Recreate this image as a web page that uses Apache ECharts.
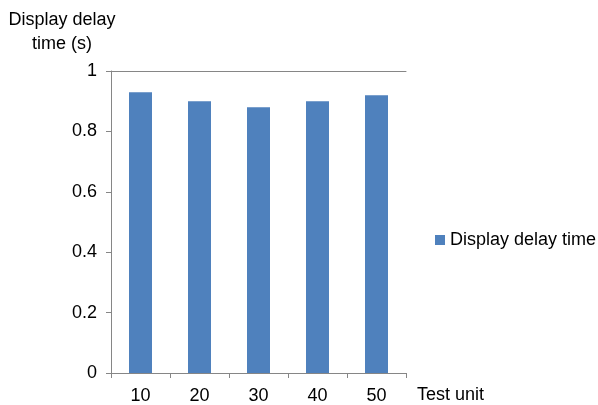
<!DOCTYPE html>
<html>
<head>
<meta charset="utf-8">
<script src="https://cdn.jsdelivr.net/npm/echarts@6/dist/echarts.min.js"></script>
<style>
  html, body { margin: 0; padding: 0; background: #fff; }
  #chart { width: 598px; height: 405px; }
</style>
</head>
<body>
<div id="chart"></div>
<script>
// Test units on the x axis and measured display delay (seconds)
const testUnits = ['10', '20', '30', '40', '50'];
const delayTimes = [0.93, 0.90, 0.88, 0.90, 0.92];
const seriesName = 'Display delay time';
const yTicks = [0, 0.2, 0.4, 0.6, 0.8, 1];

const FONT = 'Liberation Sans';
const AXIS_GRAY = '#868686';

const chart = echarts.init(document.getElementById('chart'));
chart.setOption({
  animation: false,
  textStyle: { fontFamily: FONT },
  graphic: [{
    type: 'text',
    x: 62,
    y: 8,
    style: {
      text: 'Display delay\ntime (s)',
      align: 'center',
      verticalAlign: 'top',
      font: '18px "' + FONT + '"',
      lineHeight: 24,
      fill: '#000'
    }
  }],
  legend: {
    data: [seriesName],
    orient: 'vertical',
    left: 430,
    top: 226,
    icon: 'rect',
    itemWidth: 10,
    itemHeight: 10,
    itemGap: 5,
    textStyle: { fontFamily: FONT, fontSize: 18, color: '#000' }
  },
  grid: { left: 111, top: 71, right: 192, bottom: 32 },
  xAxis: [{
    type: 'category',
    data: testUnits,
    name: 'Test unit',
    nameLocation: 'end',
    nameGap: 11,
    nameTextStyle: { fontFamily: FONT, fontSize: 18, color: '#000', align: 'left', verticalAlign: 'top', padding: [13, 0, 0, 0] },
    axisLine: { lineStyle: { color: AXIS_GRAY, width: 1 } },
    axisTick: { show: true, alignWithLabel: false, length: 5, lineStyle: { color: AXIS_GRAY } },
    axisLabel: { fontFamily: FONT, fontSize: 18, color: '#000', margin: 14 }
  }, {
    type: 'category',
    data: testUnits,
    position: 'top',
    axisLine: { show: true, lineStyle: { color: AXIS_GRAY, width: 1 } },
    axisTick: { show: false },
    axisLabel: { show: false },
    splitLine: { show: false }
  }],
  yAxis: {
    type: 'value',
    min: yTicks[0],
    max: yTicks[yTicks.length - 1],
    interval: 0.2,
    axisLine: { show: true, lineStyle: { color: AXIS_GRAY, width: 1 } },
    axisTick: { show: true, length: 5, lineStyle: { color: AXIS_GRAY } },
    axisLabel: { fontFamily: FONT, fontSize: 18, color: '#000', margin: 14 },
    splitLine: { show: false }
  },
  series: [{
    name: seriesName,
    type: 'bar',
    data: delayTimes,
    barWidth: 23,
    itemStyle: { color: '#4F81BD' }
  }]
});
</script>
</body>
</html>
